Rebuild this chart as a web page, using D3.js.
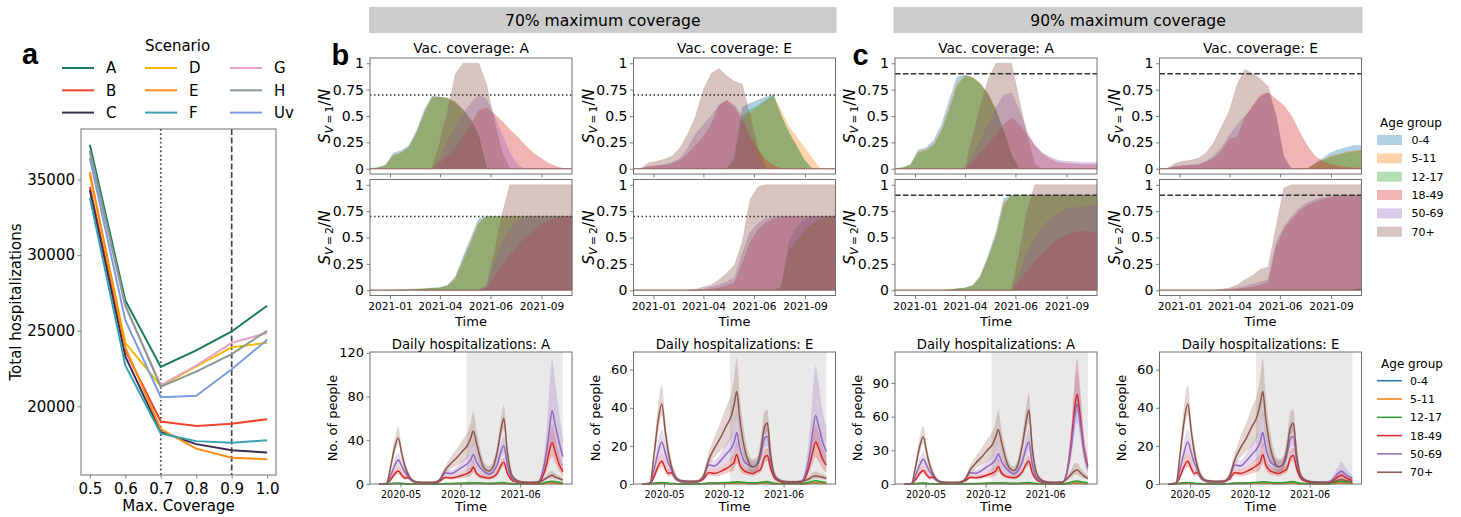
<!DOCTYPE html>
<html>
<head>
<meta charset="utf-8">
<script src="https://cdn.jsdelivr.net/npm/d3@7/dist/d3.min.js"></script>
<style>
  body { margin: 0; background: #fff; }
  svg { display: block; }
  svg text { font-family: "DejaVu Sans", sans-serif; fill: #000; }
</style>
</head>
<body>
<svg id="fig" width="1461" height="517"></svg>
<script>
// ---------- panel a: total hospitalizations by maximum coverage ----------
const coverage = [0.5, 0.6, 0.7, 0.8, 0.9, 1.0];
const scenarios = ["A", "B", "C", "D", "E", "F", "G", "H", "Uv"];
const scenarioColors = ["#1b7a5b", "#f0452b", "#3b2d4f", "#f5b700", "#ff8c1a", "#3aa1b3", "#e8a2c8", "#879a8d", "#7a9de0"];
const totA  = [37300, 27000, 22600, 23700, 24950, 26650];
const totB  = [34500, 23700, 19000, 18700, 18850, 19150];
const totC  = [34300, 23300, 18300, 17500, 17100, 16950];
const totD  = [35300, 24200, 21350, 22650, 23900, 24200];
const totE  = [35500, 23900, 18500, 17200, 16600, 16500];
const totF  = [33800, 22700, 18200, 17700, 17600, 17750];
const totG  = [36800, 26600, 21400, 22700, 24200, 24850];
const totH  = [36900, 26700, 21300, 22300, 23450, 25000];
const totUv = [36400, 25700, 20600, 20700, 22450, 24400];
const totTicks = [20000, 25000, 30000, 35000];
const coverageMarks = [0.7, 0.9];

// ---------- age groups ----------
const ageGroups = ["0-4", "5-11", "12-17", "18-49", "50-69", "70+"];
const ageColors = ["#1f77b4", "#ff7f0e", "#2ca02c", "#d62728", "#9467bd", "#8c564b"];

// ---------- b/c top: vaccinated share S_V/N, rows follow ageGroups ----------
const vacDates = ["2020-11-26", "2020-12-10", "2020-12-24", "2021-01-07", "2021-01-21", "2021-02-04", "2021-02-18",
  "2021-03-04", "2021-03-18", "2021-04-01", "2021-04-15", "2021-04-29", "2021-05-13", "2021-05-27", "2021-06-10",
  "2021-06-24", "2021-07-08", "2021-07-22", "2021-08-05", "2021-08-19", "2021-09-02", "2021-09-16", "2021-09-30",
  "2021-10-14", "2021-10-28", "2021-11-11", "2021-11-25"];
const vacTickDates = ["2021-01-01", "2021-04-01", "2021-07-01", "2021-10-01"];
const vacTickLabels = ["2021-01", "2021-04", "2021-06", "2021-09"];

const vac1_70A = [
  [0, 0.01, 0.035, 0.15, 0.17, 0.22, 0.36, 0.56, 0.69, 0.68, 0.67, 0.63, 0.56, 0.46, 0.31, 0, 0, 0, 0, 0, 0, 0, 0, 0, 0, 0, 0],
  [0, 0.01, 0.03, 0.13, 0.155, 0.2, 0.34, 0.53, 0.68, 0.68, 0.67, 0.63, 0.56, 0.47, 0.32, 0, 0, 0, 0, 0, 0, 0, 0, 0, 0, 0, 0],
  [0, 0.01, 0.03, 0.12, 0.15, 0.2, 0.33, 0.52, 0.67, 0.68, 0.66, 0.62, 0.55, 0.45, 0.3, 0, 0, 0, 0, 0, 0, 0, 0, 0, 0, 0, 0],
  [0, 0, 0, 0, 0, 0, 0, 0, 0, 0.05, 0.12, 0.2, 0.3, 0.42, 0.55, 0.58, 0.52, 0.45, 0.37, 0.3, 0.22, 0.15, 0.1, 0.05, 0.02, 0, 0],
  [0, 0, 0, 0, 0, 0, 0, 0, 0, 0.1, 0.25, 0.4, 0.52, 0.62, 0.7, 0.66, 0.5, 0.32, 0.15, 0.03, 0, 0, 0, 0, 0, 0, 0],
  [0, 0, 0, 0, 0, 0, 0, 0, 0, 0.25, 0.55, 0.9, 1, 1, 1, 0.8, 0.45, 0.15, 0, 0, 0, 0, 0, 0, 0, 0, 0]
];
const vac2_70A = [
  [0, 0, 0, 0.003, 0.005, 0.008, 0.01, 0.015, 0.02, 0.025, 0.05, 0.13, 0.32, 0.5, 0.68, 0.7, 0.7, 0.7, 0.7, 0.7, 0.7, 0.7, 0.7, 0.7, 0.7, 0.7, 0.7],
  [0, 0, 0, 0.003, 0.005, 0.008, 0.01, 0.014, 0.02, 0.022, 0.045, 0.12, 0.29, 0.47, 0.65, 0.7, 0.7, 0.7, 0.7, 0.7, 0.7, 0.7, 0.7, 0.7, 0.7, 0.7, 0.7],
  [0, 0, 0, 0.002, 0.004, 0.007, 0.01, 0.013, 0.018, 0.02, 0.04, 0.11, 0.27, 0.45, 0.63, 0.7, 0.7, 0.7, 0.7, 0.7, 0.7, 0.7, 0.7, 0.7, 0.7, 0.7, 0.7],
  [0, 0, 0, 0, 0, 0, 0, 0, 0, 0, 0, 0, 0, 0, 0, 0.02, 0.12, 0.23, 0.33, 0.42, 0.5, 0.56, 0.62, 0.66, 0.69, 0.7, 0.7],
  [0, 0, 0, 0, 0, 0, 0, 0, 0, 0, 0, 0, 0, 0, 0, 0.05, 0.25, 0.45, 0.58, 0.67, 0.7, 0.7, 0.7, 0.7, 0.7, 0.7, 0.7],
  [0, 0, 0, 0, 0, 0, 0, 0, 0, 0, 0, 0, 0, 0, 0, 0.03, 0.35, 0.72, 1, 1, 1, 1, 1, 1, 1, 1, 1]
];
const vac1_70E = [
  [0, 0, 0, 0, 0, 0, 0, 0, 0, 0, 0, 0, 0, 0.12, 0.58, 0.62, 0.65, 0.68, 0.7, 0.5, 0.33, 0.2, 0.08, 0, 0, 0, 0],
  [0, 0, 0, 0, 0, 0, 0, 0, 0, 0, 0, 0, 0, 0.06, 0.45, 0.53, 0.58, 0.64, 0.69, 0.55, 0.4, 0.3, 0.2, 0.1, 0, 0, 0],
  [0, 0, 0, 0, 0, 0, 0, 0, 0, 0, 0, 0, 0, 0.08, 0.5, 0.56, 0.6, 0.65, 0.7, 0.5, 0.35, 0.22, 0.08, 0, 0, 0, 0],
  [0, 0, 0.02, 0.025, 0.03, 0.05, 0.08, 0.14, 0.22, 0.3, 0.42, 0.6, 0.65, 0.58, 0.45, 0.3, 0.18, 0.08, 0.03, 0, 0, 0, 0, 0, 0, 0, 0],
  [0, 0.005, 0.02, 0.03, 0.04, 0.06, 0.1, 0.2, 0.33, 0.42, 0.5, 0.6, 0.65, 0.6, 0.5, 0.3, 0.1, 0, 0, 0, 0, 0, 0, 0, 0, 0, 0],
  [0, 0.005, 0.06, 0.07, 0.09, 0.12, 0.2, 0.33, 0.5, 0.75, 0.9, 0.95, 0.88, 0.83, 0.8, 0.5, 0.2, 0, 0, 0, 0, 0, 0, 0, 0, 0, 0]
];
const vac2_70E = [
  [0, 0, 0, 0, 0, 0, 0, 0, 0, 0, 0, 0, 0, 0, 0, 0, 0, 0, 0, 0.03, 0.45, 0.6, 0.67, 0.7, 0.7, 0.7, 0.7],
  [0, 0, 0, 0, 0, 0, 0, 0, 0, 0, 0, 0, 0, 0, 0, 0, 0, 0, 0, 0.02, 0.35, 0.45, 0.55, 0.62, 0.67, 0.7, 0.7],
  [0, 0, 0, 0, 0, 0, 0, 0, 0, 0, 0, 0, 0, 0, 0, 0, 0, 0, 0, 0.02, 0.37, 0.48, 0.57, 0.63, 0.68, 0.7, 0.7],
  [0, 0, 0, 0, 0, 0, 0, 0, 0.003, 0.005, 0.01, 0.02, 0.04, 0.07, 0.25, 0.45, 0.57, 0.64, 0.68, 0.7, 0.7, 0.7, 0.7, 0.7, 0.7, 0.7, 0.7],
  [0, 0, 0, 0, 0, 0, 0, 0, 0.005, 0.01, 0.03, 0.05, 0.08, 0.12, 0.35, 0.55, 0.63, 0.68, 0.7, 0.7, 0.7, 0.7, 0.7, 0.7, 0.7, 0.7, 0.7],
  [0, 0, 0, 0, 0, 0, 0, 0, 0.01, 0.03, 0.05, 0.1, 0.16, 0.24, 0.46, 0.86, 0.98, 1, 1, 1, 1, 1, 1, 1, 1, 1, 1]
];
const vac1_90A = [
  [0, 0.01, 0.04, 0.18, 0.2, 0.27, 0.42, 0.65, 0.87, 0.89, 0.86, 0.8, 0.7, 0.55, 0.35, 0.13, 0, 0, 0, 0, 0, 0, 0, 0, 0, 0, 0],
  [0, 0.01, 0.035, 0.16, 0.18, 0.24, 0.37, 0.59, 0.81, 0.885, 0.87, 0.81, 0.71, 0.56, 0.36, 0.13, 0, 0, 0, 0, 0, 0, 0, 0, 0, 0, 0],
  [0, 0.01, 0.03, 0.15, 0.17, 0.22, 0.35, 0.55, 0.78, 0.88, 0.86, 0.8, 0.7, 0.55, 0.35, 0.12, 0, 0, 0, 0, 0, 0, 0, 0, 0, 0, 0],
  [0, 0, 0, 0, 0, 0, 0, 0, 0, 0, 0.06, 0.15, 0.23, 0.32, 0.42, 0.48, 0.42, 0.32, 0.22, 0.14, 0.09, 0.06, 0.05, 0.045, 0.04, 0.04, 0.04],
  [0, 0, 0, 0, 0, 0, 0, 0, 0, 0, 0.12, 0.27, 0.42, 0.58, 0.7, 0.72, 0.55, 0.35, 0.22, 0.15, 0.11, 0.08, 0.07, 0.065, 0.06, 0.06, 0.06],
  [0, 0, 0, 0, 0, 0, 0, 0, 0, 0, 0.3, 0.6, 0.85, 1, 1, 1, 0.65, 0.32, 0.04, 0, 0, 0, 0, 0, 0, 0, 0]
];
const vac2_90A = [
  [0, 0, 0, 0, 0, 0, 0, 0.005, 0.015, 0.02, 0.045, 0.14, 0.33, 0.55, 0.87, 0.9, 0.9, 0.9, 0.9, 0.9, 0.9, 0.9, 0.9, 0.9, 0.9, 0.9, 0.9],
  [0, 0, 0, 0, 0, 0, 0, 0.005, 0.014, 0.02, 0.042, 0.13, 0.31, 0.52, 0.83, 0.9, 0.9, 0.9, 0.9, 0.9, 0.9, 0.9, 0.9, 0.9, 0.9, 0.9, 0.9],
  [0, 0, 0, 0, 0, 0, 0, 0.004, 0.013, 0.02, 0.04, 0.12, 0.3, 0.5, 0.8, 0.9, 0.9, 0.9, 0.9, 0.9, 0.9, 0.9, 0.9, 0.9, 0.9, 0.9, 0.9],
  [0, 0, 0, 0, 0, 0, 0, 0, 0, 0, 0, 0, 0, 0, 0, 0, 0.08, 0.18, 0.27, 0.35, 0.42, 0.48, 0.52, 0.55, 0.56, 0.55, 0.55],
  [0, 0, 0, 0, 0, 0, 0, 0, 0, 0, 0, 0, 0, 0, 0, 0, 0.15, 0.35, 0.5, 0.6, 0.68, 0.73, 0.77, 0.78, 0.79, 0.8, 0.81],
  [0, 0, 0, 0, 0, 0, 0, 0, 0, 0, 0, 0, 0, 0, 0, 0, 0.35, 0.75, 1, 1, 1, 1, 1, 1, 1, 1, 1]
];
const vac1_90E = [
  [0, 0, 0, 0, 0, 0, 0, 0, 0, 0, 0, 0, 0, 0, 0, 0, 0, 0, 0, 0, 0.05, 0.1, 0.15, 0.18, 0.2, 0.22, 0.22],
  [0, 0, 0, 0, 0, 0, 0, 0, 0, 0, 0, 0, 0, 0, 0, 0, 0, 0, 0, 0, 0.04, 0.08, 0.12, 0.14, 0.16, 0.17, 0.18],
  [0, 0, 0, 0, 0, 0, 0, 0, 0, 0, 0, 0, 0, 0, 0, 0, 0, 0, 0, 0, 0.04, 0.08, 0.11, 0.13, 0.15, 0.16, 0.17],
  [0, 0, 0.02, 0.025, 0.03, 0.035, 0.06, 0.1, 0.17, 0.28, 0.3, 0.48, 0.6, 0.7, 0.72, 0.66, 0.6, 0.5, 0.35, 0.22, 0.12, 0.07, 0.04, 0.025, 0.015, 0.008, 0.005],
  [0, 0.005, 0.02, 0.03, 0.035, 0.04, 0.07, 0.12, 0.2, 0.32, 0.42, 0.5, 0.58, 0.68, 0.72, 0.5, 0.12, 0, 0, 0, 0, 0, 0, 0, 0, 0, 0],
  [0, 0.005, 0.05, 0.07, 0.08, 0.1, 0.15, 0.25, 0.4, 0.55, 0.8, 0.94, 0.9, 0.85, 0.78, 0.5, 0.1, 0, 0, 0, 0, 0, 0, 0, 0, 0, 0]
];
const vac2_90E = [
  [0, 0, 0, 0, 0, 0, 0, 0, 0, 0, 0, 0, 0, 0, 0, 0, 0, 0, 0, 0, 0, 0, 0, 0, 0, 0.005, 0.02],
  [0, 0, 0, 0, 0, 0, 0, 0, 0, 0, 0, 0, 0, 0, 0, 0, 0, 0, 0, 0, 0, 0, 0, 0, 0, 0.004, 0.015],
  [0, 0, 0, 0, 0, 0, 0, 0, 0, 0, 0, 0, 0, 0, 0, 0, 0, 0, 0, 0, 0, 0, 0, 0, 0, 0.004, 0.015],
  [0, 0, 0, 0, 0, 0, 0, 0, 0.003, 0.005, 0.01, 0.02, 0.03, 0.05, 0.07, 0.4, 0.57, 0.67, 0.75, 0.8, 0.84, 0.86, 0.88, 0.89, 0.9, 0.9, 0.9],
  [0, 0, 0, 0, 0, 0, 0, 0, 0.005, 0.01, 0.02, 0.04, 0.06, 0.08, 0.1, 0.45, 0.6, 0.7, 0.78, 0.83, 0.86, 0.88, 0.89, 0.9, 0.9, 0.9, 0.9],
  [0, 0, 0, 0, 0, 0, 0, 0, 0.01, 0.02, 0.05, 0.1, 0.14, 0.2, 0.22, 0.6, 0.97, 1, 1, 1, 1, 1, 1, 1, 1, 1, 1]
];

// ---------- bottom: daily hospitalizations (mean and 95% band) ----------
const hospDates = ["2020-02-15", "2020-03-12", "2020-03-27", "2020-04-09", "2020-04-23", "2020-05-06", "2020-05-16",
  "2020-05-26", "2020-06-10", "2020-06-30", "2020-07-30", "2020-08-29", "2020-09-18", "2020-10-08", "2020-10-28",
  "2020-11-17", "2020-12-07", "2020-12-27", "2021-01-06", "2021-01-15",
  "2021-01-26", "2021-02-10", "2021-02-25", "2021-03-12", "2021-03-27", "2021-04-11", "2021-04-24", "2021-05-04",
  "2021-05-16", "2021-05-31", "2021-06-15", "2021-07-05", "2021-08-04", "2021-09-03", "2021-09-18", "2021-10-03",
  "2021-10-13", "2021-10-23", "2021-11-02", "2021-11-17", "2021-11-30"];
const hospTickDates = ["2020-05-01", "2020-12-01", "2021-07-01"];
const hospTickLabels = ["2020-05", "2020-12", "2021-06"];
const vacCampaign = ["2020-12-22", "2021-11-30"];

// first 20 dates (up to mid-January 2021) are shared by every scenario
const pre04     = [0, 0.05, 0.25, 0.35, 0.4, 0.3, 0.2, 0.15, 0.1, 0.05, 0.05, 0.05, 0.1, 0.25, 0.25, 0.3, 0.35, 0.4, 0.45, 0.55];
const pre511    = [0, 0.05, 0.2, 0.3, 0.35, 0.3, 0.2, 0.15, 0.1, 0.05, 0.05, 0.05, 0.1, 0.2, 0.2, 0.25, 0.3, 0.35, 0.4, 0.5];
const pre1217   = [0, 0.1, 0.5, 0.7, 0.8, 0.6, 0.4, 0.3, 0.2, 0.1, 0.1, 0.1, 0.2, 0.5, 0.5, 0.6, 0.8, 0.9, 1.0, 1.2];
const pre1849   = [0, 0.2, 4, 9, 12, 8, 5.5, 6, 3, 1.2, 1, 1.1, 2.5, 6, 5.5, 6.5, 8, 10, 11.5, 15.5];
const pre1849Lo = [0, 0.1, 2.8, 6.5, 9, 6, 4, 4.5, 2, 0.8, 0.7, 0.8, 1.8, 4.5, 4, 4.5, 5.5, 6.5, 7.5, 11];
const pre1849Hi = [0, 0.3, 6, 13, 16, 12, 8, 8, 4, 1.7, 1.4, 1.5, 3.5, 8, 7.5, 9, 11, 14, 16, 22];
const pre5069   = [0, 0.3, 8, 16, 22, 16, 11, 8, 3, 1.3, 1.2, 1.3, 3.5, 10, 9.5, 12, 15.5, 19, 22, 27];
const pre5069Lo = [0, 0.2, 5.5, 12, 16, 11, 8, 5.5, 2, 1, 0.9, 1, 2.5, 8, 7, 9, 11, 13, 15, 20];
const pre5069Hi = [0, 0.5, 11, 22, 28.5, 21, 15, 11, 4.5, 2, 1.6, 1.8, 5, 13, 12.5, 16, 21, 26, 30, 37];
const pre70     = [0, 0.5, 16, 32, 42, 27, 17, 10, 4, 1.8, 1.5, 1.6, 4, 13, 19, 24, 30, 36, 42, 48.5];
const pre70Lo   = [0, 0.3, 12, 26, 36, 22, 13, 7, 2.5, 1.2, 1, 1, 2.5, 10, 14, 17, 20, 25, 30, 36];
const pre70Hi   = [0, 0.8, 21, 40, 52, 33, 22, 14, 6, 2.5, 2, 2.3, 6, 17, 25, 32, 40, 48, 56, 66];

// remaining 21 dates per panel; mean rows follow ageGroups, Lo/Hi rows are 18-49, 50-69, 70+
const h70A = [
  [0.5, 0.4, 0.3, 0.25, 0.3, 0.4, 0.5, 0.5, 0.3, 0.15, 0.1, 0.08, 0.08, 0.1, 0.3, 0.6, 0.8, 0.9, 0.8, 0.5, 0.35],
  [0.45, 0.35, 0.3, 0.25, 0.3, 0.35, 0.45, 0.5, 0.3, 0.15, 0.1, 0.08, 0.08, 0.1, 0.3, 0.5, 0.7, 0.8, 0.7, 0.45, 0.3],
  [1.1, 0.9, 0.7, 0.6, 0.7, 0.9, 1.2, 1.3, 0.8, 0.4, 0.3, 0.2, 0.2, 0.3, 0.8, 1.8, 2.4, 2.6, 2.2, 1.5, 1],
  [10, 7, 6, 5.5, 6.5, 10, 17, 20, 10, 4, 2, 1, 0.8, 1, 6, 18, 30, 38, 30, 18, 11],
  [20.5, 14.5, 11, 9, 11, 18, 30, 35, 18, 6, 3, 1.5, 1.2, 2, 10, 30, 50, 67, 55, 38, 25],
  [38, 23, 14, 12, 16, 30, 50, 60, 30, 9, 4, 2, 1.5, 1.5, 3, 5.5, 7, 8, 6.5, 5, 3.5]
];
const h70ALo = [
  [7.5, 5, 4.5, 4, 5, 8, 14, 16, 8, 3, 1.5, 0.7, 0.5, 0.7, 4, 12, 20, 25, 20, 12, 7],
  [14, 10, 7.5, 6.5, 8, 14, 24, 28, 13, 4, 2, 1, 0.8, 1.2, 6, 18, 32, 40, 32, 22, 14],
  [28, 16, 10, 9, 12, 24, 42, 50, 23, 6, 2.5, 1.2, 1, 1, 2, 4, 5, 5, 4.5, 3.5, 2.5]
];
const h70AHi = [
  [13.5, 9.5, 8, 7.5, 9, 13, 21, 24, 13, 5.5, 3, 1.5, 1.2, 1.5, 9, 26, 44, 54, 44, 27, 17],
  [28, 20, 15, 12, 15, 24, 38, 44, 24, 9, 4.5, 2.2, 1.8, 3, 16, 48, 85, 115, 95, 65, 42],
  [50, 31, 19, 16, 21, 37, 60, 72, 38, 13, 6, 3, 2.2, 2.2, 4.5, 8, 11, 12, 10, 7.5, 5]
];
const h70E = [
  [0.5, 0.4, 0.3, 0.25, 0.3, 0.4, 0.5, 0.5, 0.3, 0.15, 0.1, 0.08, 0.08, 0.1, 0.2, 0.4, 0.5, 0.6, 0.5, 0.4, 0.3],
  [0.45, 0.35, 0.3, 0.25, 0.3, 0.35, 0.45, 0.5, 0.3, 0.15, 0.1, 0.08, 0.08, 0.1, 0.2, 0.35, 0.45, 0.55, 0.45, 0.35, 0.3],
  [1.1, 0.9, 0.7, 0.6, 0.7, 0.9, 1.2, 1.3, 0.8, 0.4, 0.3, 0.2, 0.2, 0.3, 0.6, 1.1, 1.5, 1.7, 1.5, 1.1, 0.9],
  [10, 7, 6, 5.5, 6.5, 8, 14, 15, 8, 3, 1.5, 0.8, 0.7, 1, 4, 11, 17, 22, 19, 13, 10],
  [19, 12, 10, 9, 10, 15, 24, 25, 12, 4, 2, 1.2, 1, 1.5, 6, 17, 28, 36, 31, 22, 17],
  [34, 20, 12, 9, 10, 18, 30, 32, 15, 4, 2, 1.3, 1.2, 1.3, 2, 3, 4, 4.2, 4, 3.5, 3]
];
const h70ELo = [
  [7.5, 5, 4.5, 4, 5, 6, 11, 12, 6, 2, 1, 0.5, 0.5, 0.7, 2.5, 7, 11, 14, 12, 8, 6],
  [13, 8.5, 7, 6.5, 7, 11, 19, 20, 9, 2.5, 1.3, 0.8, 0.7, 1, 4, 10, 17, 22, 18, 12, 9],
  [25, 14, 8, 6, 7, 14, 26, 27, 11, 2.5, 1.3, 0.9, 0.8, 0.9, 1.3, 2, 2.5, 2.8, 2.6, 2.3, 2]
];
const h70EHi = [
  [13.5, 9.5, 8, 7.5, 9, 10.5, 18, 19, 11, 4.5, 2.2, 1.2, 1, 1.5, 6, 17, 25, 31, 27, 19, 15],
  [27, 17, 14, 12, 13, 20, 30, 31, 16, 6, 3, 1.8, 1.5, 2.5, 10, 30, 48, 62, 54, 38, 30],
  [46, 28, 17, 13, 14, 24, 38, 39, 20, 6, 3, 2, 1.8, 2, 3, 4.5, 6, 6.5, 6, 5, 4.5]
];
const h90A = [
  [0.5, 0.4, 0.3, 0.25, 0.3, 0.4, 0.5, 0.5, 0.3, 0.15, 0.1, 0.08, 0.08, 0.1, 0.3, 0.6, 0.8, 0.9, 0.8, 0.5, 0.35],
  [0.45, 0.35, 0.3, 0.25, 0.3, 0.35, 0.45, 0.5, 0.3, 0.15, 0.1, 0.08, 0.08, 0.1, 0.3, 0.5, 0.7, 0.8, 0.7, 0.45, 0.3],
  [1.1, 0.9, 0.7, 0.6, 0.7, 0.9, 1.2, 1.3, 0.8, 0.4, 0.3, 0.2, 0.2, 0.3, 0.8, 1.8, 2.4, 2.6, 2.2, 1.5, 1],
  [10, 7, 6, 5.5, 7, 11, 17.5, 20.4, 10, 4, 2, 1, 0.8, 1.5, 12, 40, 65, 80, 62, 30, 16],
  [20.5, 14.5, 11, 9, 12, 20, 32, 37.5, 18, 6, 3, 1.5, 1.2, 2, 12, 35, 58, 71, 56, 28, 14],
  [38, 23, 14, 12, 18, 35, 55, 66, 32, 10, 4, 2, 1.5, 2, 5, 9, 11.5, 12.5, 10.5, 7, 5]
];
const h90ALo = [
  [7.5, 5, 4.5, 4, 5.5, 8.5, 14, 16, 8, 3, 1.5, 0.7, 0.5, 1, 8, 30, 50, 63, 48, 22, 11],
  [14, 10, 7.5, 6.5, 9, 15, 25, 29, 13, 4, 2, 1, 0.8, 1.3, 8, 25, 43, 55, 42, 20, 9],
  [28, 16, 10, 9, 13, 28, 45, 54, 24, 7, 2.5, 1.2, 1, 1.3, 3.5, 6, 8, 8.5, 7, 5, 3.5]
];
const h90AHi = [
  [13.5, 9.5, 8, 7.5, 9.5, 14, 22, 26, 13, 5.5, 3, 1.5, 1.2, 2.2, 18, 55, 90, 112, 88, 42, 24],
  [28, 20, 15, 12, 16, 26, 41, 50, 24, 9, 4.5, 2.2, 1.8, 3, 18, 50, 82, 100, 80, 40, 22],
  [50, 31, 19, 16, 24, 44, 68, 81, 42, 14, 6, 3, 2.2, 3, 7, 13, 18, 19, 15, 10.5, 7.5]
];
const h90E = [
  [0.5, 0.4, 0.3, 0.25, 0.3, 0.4, 0.5, 0.5, 0.3, 0.15, 0.1, 0.08, 0.08, 0.1, 0.2, 0.4, 0.5, 0.6, 0.5, 0.4, 0.3],
  [0.45, 0.35, 0.3, 0.25, 0.3, 0.35, 0.45, 0.5, 0.3, 0.15, 0.1, 0.08, 0.08, 0.1, 0.2, 0.35, 0.45, 0.55, 0.45, 0.35, 0.3],
  [1.1, 0.9, 0.7, 0.6, 0.7, 0.9, 1.2, 1.3, 0.8, 0.4, 0.3, 0.2, 0.2, 0.3, 0.6, 1.1, 1.4, 1.5, 1.3, 1, 0.8],
  [10, 7, 6, 5.5, 6.5, 8, 14, 15, 8, 3, 1.5, 0.8, 0.6, 0.7, 1.4, 3, 4, 4.6, 3.8, 2.6, 1.8],
  [19, 12, 10, 9, 10, 15, 24, 25, 12, 4, 2, 1.2, 1, 1, 2, 4.5, 6, 6.7, 5.5, 4, 3],
  [34, 20, 12, 9, 10, 18, 30, 32, 15, 4, 2, 1.2, 0.9, 0.8, 1, 1.6, 2.1, 2.3, 2, 1.4, 1]
];
const h90ELo = [
  [7.5, 5, 4.5, 4, 5, 6, 11, 12, 6, 2, 1, 0.5, 0.4, 0.5, 0.9, 2, 2.6, 3, 2.4, 1.7, 1.1],
  [13, 8.5, 7, 6.5, 7, 11, 19, 20, 9, 2.5, 1.3, 0.8, 0.7, 0.7, 1.3, 3, 4, 4.5, 3.7, 2.6, 2],
  [25, 14, 8, 6, 7, 14, 26, 27, 11, 2.5, 1.3, 0.8, 0.6, 0.5, 0.6, 1, 1.3, 1.5, 1.3, 0.9, 0.6]
];
const h90EHi = [
  [13.5, 9.5, 8, 7.5, 9, 10.5, 18, 19, 11, 4.5, 2.2, 1.2, 0.9, 1.1, 2.2, 4.8, 6.3, 7.3, 6, 4.2, 3],
  [27, 17, 14, 12, 13, 20, 30, 31, 16, 6, 3, 1.8, 1.5, 1.5, 3.2, 7.5, 10, 11.5, 9.5, 6.5, 5],
  [46, 28, 17, 13, 14, 24, 38, 39, 20, 6, 3, 1.8, 1.4, 1.2, 1.6, 2.5, 3.3, 3.6, 3.2, 2.3, 1.6]
];
const hospTicks70A = [0, 40, 80, 120];
const hospTicks70E = [0, 20, 40, 60];
const hospTicks90A = [0, 30, 60, 90];
const hospTicks90E = [0, 20, 40, 60];

// ================= drawing =================
const svg = d3.select("#fig");
const parse = d3.timeParse("%Y-%m-%d");
const spine = "#707070";
const panelW = 202;
const colX = [370, 633.5, 895, 1159.5];

function padded(ext, f) {
  const r = ext[1] - ext[0];
  return [ext[0] - r * f, ext[1] + r * f];
}

function styleAxis(g, fs) {
  g.attr("font-family", null);
  g.select(".domain").remove();
  g.selectAll(".tick line").attr("stroke", spine).attr("stroke-width", 0.9);
  g.selectAll(".tick text").attr("font-size", fs).attr("fill", "#000");
}

function frame(g, x, y, w, h) {
  g.append("rect").attr("x", x).attr("y", y).attr("width", w).attr("height", h)
    .attr("fill", "none").attr("stroke", spine).attr("stroke-width", 1);
}

// ---------- panel a ----------
const gA = svg.append("g");
const totals = [totA, totB, totC, totD, totE, totF, totG, totH, totUv];
const aL = 81, aR = 276, aT = 129, aB = 475;
const xA = d3.scaleLinear().domain(padded(d3.extent(coverage), 0.05)).range([aL, aR]);
const yA = d3.scaleLinear().domain(padded(d3.extent(totals.flat()), 0.05)).range([aB, aT]);

gA.selectAll("line.mark").data(coverageMarks).join("line")
  .attr("x1", d => xA(d)).attr("x2", d => xA(d)).attr("y1", aT).attr("y2", aB)
  .attr("stroke", "#444").attr("stroke-width", 1.7)
  .attr("stroke-dasharray", (d, i) => i === 0 ? "1.7,2.6" : "6,2.6");

const lineA = d3.line().x((d, i) => xA(coverage[i])).y(d => yA(d));
gA.selectAll("path.scn").data(totals).join("path")
  .attr("d", lineA).attr("fill", "none")
  .attr("stroke", (d, i) => scenarioColors[i]).attr("stroke-width", 2);

frame(gA, aL, aT, aR - aL, aB - aT);
gA.append("g").attr("transform", `translate(0,${aB})`)
  .call(d3.axisBottom(xA).tickValues(coverage).tickFormat(d3.format(".1f")).tickSize(3.5).tickPadding(5))
  .call(styleAxis, 15);
gA.append("g").attr("transform", `translate(${aL},0)`)
  .call(d3.axisLeft(yA).tickValues(totTicks).tickFormat(d3.format("d")).tickSize(3.5).tickPadding(2.5))
  .call(styleAxis, 15);
gA.append("text").attr("x", (aL + aR) / 2).attr("y", 510.5).attr("text-anchor", "middle")
  .attr("font-size", 15).text("Max. Coverage");
gA.append("text").attr("transform", `translate(20.5,${(aT + aB) / 2}) rotate(-90)`)
  .attr("text-anchor", "middle").attr("font-size", 15).text("Total hospitalizations");

// legend
gA.append("text").attr("x", 177.5).attr("y", 51).attr("text-anchor", "middle")
  .attr("font-size", 15).text("Scenario");
const legColX = [62, 145, 230];
scenarios.forEach((s, i) => {
  const cx = legColX[Math.floor(i / 3)], cy = 68 + (i % 3) * 22.3;
  gA.append("line").attr("x1", cx).attr("x2", cx + 32).attr("y1", cy).attr("y2", cy)
    .attr("stroke", scenarioColors[i]).attr("stroke-width", 2);
  gA.append("text").attr("x", cx + 44).attr("y", cy + 5.3).attr("font-size", 15).text(s);
});

// ---------- header bars and panel letters ----------
[["70% maximum coverage", colX[0] - 1, colX[1] + panelW + 1],
 ["90% maximum coverage", colX[2] - 1.5, colX[3] + panelW + 1]].forEach(([t, x1, x2]) => {
  svg.append("rect").attr("x", x1).attr("y", 7).attr("width", x2 - x1).attr("height", 26).attr("fill", "#cccccc");
  svg.append("text").attr("x", (x1 + x2) / 2).attr("y", 26.3).attr("text-anchor", "middle")
    .attr("font-size", 15.6).text(t);
});
[["a", 22, 63.5], ["b", 331.5, 65], ["c", 852.5, 65]].forEach(([t, x, y]) => {
  svg.append("text").attr("x", x).attr("y", y).attr("font-size", 29).attr("font-weight", "bold")
    .style("font-family", "'Liberation Sans', Arial, sans-serif").text(t);
});

// ---------- vaccination coverage panels ----------
function vacPanel(x0, key, level, v1, v2) {
  const g = svg.append("g");
  const dates = vacDates.map(parse);
  const x = d3.scaleTime().domain(d3.extent(dates)).range([x0, x0 + panelW]);
  const ticks = vacTickDates.map(parse);
  const subs = [[v1, 174, 58, "1"], [v2, 295.5, 179.5, "2"]];
  subs.forEach(([rows, yb, yt, dose], s) => {
    const y = d3.scaleLinear().domain([-0.05, 1.05]).range([yb, yt]);
    const area = d3.area().x((d, i) => x(dates[i])).y0(y(0)).y1(d => y(d));
    g.append("g").selectAll("path").data(rows).join("path")
      .attr("d", area).attr("fill", (d, i) => ageColors[i]).attr("fill-opacity", 0.35)
      .attr("stroke", (d, i) => ageColors[i]).attr("stroke-opacity", 0.2).attr("stroke-width", 0.8);
    g.append("line").attr("x1", x0).attr("x2", x0 + panelW).attr("y1", y(level)).attr("y2", y(level))
      .attr("stroke", "#333").attr("stroke-width", 1.5)
      .attr("stroke-dasharray", level < 0.8 ? "1.5,2.5" : "5.5,2.4");
    frame(g, x0, yt, panelW, yb - yt);
    g.append("g").attr("transform", `translate(${x0},0)`)
      .call(d3.axisLeft(y).tickValues([0, 0.25, 0.5, 0.75, 1]).tickFormat(d3.format("~g")).tickSize(3.5).tickPadding(2.5))
      .call(styleAxis, 14);
    const xa = d3.axisBottom(x).tickValues(ticks).tickSize(3.5).tickPadding(3.2)
      .tickFormat(s === 0 ? () => "" : (d, i) => vacTickLabels[i]);
    g.append("g").attr("transform", `translate(0,${yb})`).call(xa).call(styleAxis, 10.6);
    const lab = g.append("text")
      .attr("transform", `translate(${x0 - 40},${(yt + yb) / 2}) rotate(-90)`)
      .attr("text-anchor", "middle").attr("font-size", 15.5);
    lab.append("tspan").attr("font-style", "italic").text("S");
    lab.append("tspan").attr("font-size", 10.8).attr("dy", 3.2).attr("font-style", "italic").text("V");
    lab.append("tspan").attr("font-size", 10.8).text("\u2009=\u2009" + dose);
    lab.append("tspan").attr("dy", -3.2).text("/");
    lab.append("tspan").attr("font-style", "italic").text("N");
  });
  g.append("text").attr("x", x0 + panelW / 2).attr("y", 52.5).attr("text-anchor", "middle")
    .attr("font-size", 13.8).text("Vac. coverage: " + key);
  g.append("text").attr("x", x0 + panelW / 2).attr("y", 325.5).attr("text-anchor", "middle")
    .attr("font-size", 13).text("Time");
}

vacPanel(colX[0], "A", 0.7, vac1_70A, vac2_70A);
vacPanel(colX[1], "E", 0.7, vac1_70E, vac2_70E);
vacPanel(colX[2], "A", 0.9, vac1_90A, vac2_90A);
vacPanel(colX[3], "E", 0.9, vac1_90E, vac2_90E);

// ---------- daily hospitalization panels ----------
const preMean = [pre04, pre511, pre1217, pre1849, pre5069, pre70];
const preLo = [pre1849Lo, pre5069Lo, pre70Lo];
const preHi = [pre1849Hi, pre5069Hi, pre70Hi];

function hospPanel(x0, key, mean, lo, hi, yTicks) {
  const g = svg.append("g");
  const top = 352, bottom = 484;
  const dates = hospDates.map(parse);
  const rows = preMean.map((p, k) => p.concat(mean[k]));
  const rowsLo = preLo.map((p, k) => p.concat(lo[k]));
  const rowsHi = preHi.map((p, k) => p.concat(hi[k]));
  const x = d3.scaleTime().domain(padded(d3.extent(dates).map(Number), 0.05)).range([x0, x0 + panelW]);
  const y = d3.scaleLinear().domain([0, d3.max(rowsHi.flat()) * 1.05]).range([bottom, top]);

  const c0 = x(parse(vacCampaign[0])), c1 = x(parse(vacCampaign[1]));
  g.append("rect").attr("x", c0).attr("y", top).attr("width", c1 - c0).attr("height", bottom - top)
    .attr("fill", "#d3d3d3").attr("fill-opacity", 0.5);

  const band = d3.area().curve(d3.curveMonotoneX)
    .x((d, i) => x(dates[i])).y0(d => y(d[0])).y1(d => y(d[1]));
  g.append("g").selectAll("path").data(rowsLo.map((l, k) => l.map((v, i) => [v, rowsHi[k][i]]))).join("path")
    .attr("d", band).attr("fill", (d, k) => ageColors[k + 3]).attr("fill-opacity", 0.25);

  const line = d3.line().curve(d3.curveMonotoneX).x((d, i) => x(dates[i])).y(d => y(d));
  g.append("g").selectAll("path").data(rows).join("path")
    .attr("d", line).attr("fill", "none").attr("stroke", (d, k) => ageColors[k]).attr("stroke-width", 1.5);

  frame(g, x0, top, panelW, bottom - top);
  g.append("g").attr("transform", `translate(${x0},0)`)
    .call(d3.axisLeft(y).tickValues(yTicks).tickSize(3.5).tickPadding(2.5))
    .call(styleAxis, 13);
  g.append("g").attr("transform", `translate(0,${bottom})`)
    .call(d3.axisBottom(x).tickValues(hospTickDates.map(parse)).tickSize(3.5).tickPadding(3.4)
      .tickFormat((d, i) => hospTickLabels[i]))
    .call(styleAxis, 9.6);
  g.append("text").attr("x", x0 + panelW / 2).attr("y", 349).attr("text-anchor", "middle")
    .attr("font-size", 13.2).text("Daily hospitalizations: " + key);
  g.append("text").attr("x", x0 + panelW / 2).attr("y", 510.5).attr("text-anchor", "middle")
    .attr("font-size", 13).text("Time");
  g.append("text").attr("transform", `translate(${x0 - 33.5},${(top + bottom) / 2}) rotate(-90)`)
    .attr("text-anchor", "middle").attr("font-size", 13).text("No. of people");
}

hospPanel(colX[0], "A", h70A, h70ALo, h70AHi, hospTicks70A);
hospPanel(colX[1], "E", h70E, h70ELo, h70EHi, hospTicks70E);
hospPanel(colX[2], "A", h90A, h90ALo, h90AHi, hospTicks90A);
hospPanel(colX[3], "E", h90E, h90ELo, h90EHi, hospTicks90E);

// ---------- age group legends ----------
const legX = 1377;
svg.append("text").attr("x", 1411).attr("y", 126.5).attr("text-anchor", "middle")
  .attr("font-size", 12).text("Age group");
ageGroups.forEach((a, k) => {
  const cy = 140 + k * 18.35;
  svg.append("rect").attr("x", legX).attr("y", cy - 5).attr("width", 25).attr("height", 10)
    .attr("fill", ageColors[k]).attr("fill-opacity", 0.35);
  svg.append("text").attr("x", 1411.5).attr("y", cy + 4).attr("font-size", 11).text(a);
});
svg.append("text").attr("x", 1412).attr("y", 367.5).attr("text-anchor", "middle")
  .attr("font-size", 12).text("Age group");
ageGroups.forEach((a, k) => {
  const cy = 380.7 + k * 18.3;
  svg.append("line").attr("x1", legX).attr("x2", legX + 25).attr("y1", cy).attr("y2", cy)
    .attr("stroke", ageColors[k]).attr("stroke-width", 1.5);
  svg.append("text").attr("x", 1410).attr("y", cy + 4).attr("font-size", 11).text(a);
});
</script>
</body>
</html>
